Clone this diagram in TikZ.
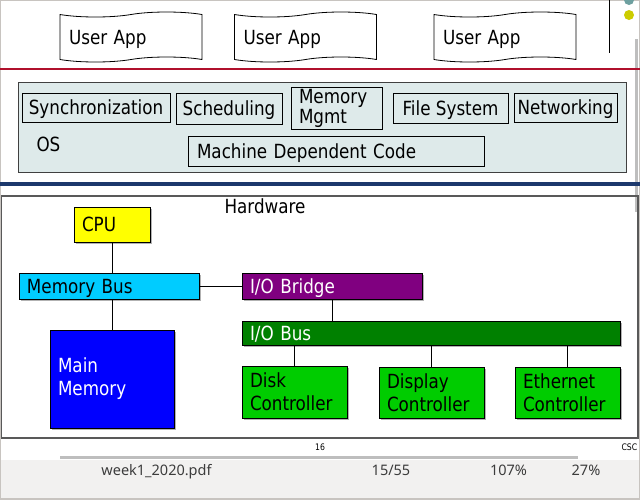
\documentclass[tikz,border=0pt]{standalone}
\usepackage{fontspec}
\setmainfont{DejaVu Sans}[FakeStretch=0.86]
\newfontfamily\uiFont{Noto Sans}
\usetikzlibrary{shapes.symbols, shadows, positioning}
\definecolor{colFrame}{RGB}{200,196,192}
\definecolor{colRedRule}{RGB}{176,16,44}
\definecolor{colNavyRule}{RGB}{28,56,108}
\definecolor{colOs}{RGB}{222,234,234}
\definecolor{colCpu}{RGB}{255,255,0}
\definecolor{colMemBus}{RGB}{0,204,255}
\definecolor{colBridge}{RGB}{128,0,128}
\definecolor{colIoBus}{RGB}{0,128,0}
\definecolor{colMainMem}{RGB}{0,0,255}
\definecolor{colCtrl}{RGB}{0,204,0}
\definecolor{colStatus}{RGB}{242,241,240}
\definecolor{colStatusText}{RGB}{60,60,60}
\definecolor{colScroll}{RGB}{190,190,190}
\definecolor{colDotTeal}{RGB}{110,160,160}
\definecolor{colDotYellow}{RGB}{204,204,0}
\tikzset{
  slideText/.style={
    font=\fontsize{19.5}{23}\selectfont
  },
  oneLine/.style={
    text depth=0pt
  },
  appBox/.style={
    tape, draw, line width=0.8pt,
    tape bend height=5pt,
    minimum height=50pt, text width=124pt,
    inner xsep=9pt, align=left, slideText, oneLine
  },
  osPart/.style={
    rectangle, draw, line width=0.8pt,
    inner sep=0pt, align=center, slideText
  },
  hwBox/.style={
    rectangle, draw, line width=0.8pt,
    inner xsep=8pt, inner ysep=0pt,
    align=left, slideText,
    drop shadow={shadow xshift=1.5pt, shadow yshift=-1.5pt,
                 fill=black!50, opacity=0.6}
  },
  link/.style={
    line width=0.8pt
  },
  statusText/.style={
    font=\uiFont\fontsize{14.5}{16}\selectfont, text=colStatusText
  }
}
\begin{document}
\begin{tikzpicture}[x=1pt, y=-1pt]

\useasboundingbox (0,0) rectangle (640,499);
\fill[white] (0,0) rectangle (640,499);

%% ==============================================================
%% Viewer window
%% ==============================================================
\fill[colStatus] (0,460) rectangle (640,499);
\draw[colFrame, line width=2pt] (0,0) rectangle (640,499);
\draw[colScroll, line width=3pt] (636.5,39) -- (636.5,212);
\fill[colDotTeal] (629,0) circle (5);
\fill[colDotYellow] (629,15) circle (5);
\draw[line width=1pt] (609,0) -- (609,53);

%% ==============================================================
%% User level
%% ==============================================================
\node[appBox] (app1) at (131,37) {User App};
\node[appBox] (app2) at (305.5,37) {User App};
\node[appBox] (app3) at (505,37) {User App};

\draw[colRedRule, line width=2.5pt] (0,69) -- (640,69);

%% ==============================================================
%% OS level
%% ==============================================================
\node[draw=black!75, line width=1pt, fill=colOs,
      minimum width=608, minimum height=90] (osLayer) at (322,127) {};

\node[osPart, oneLine, minimum width=148, minimum height=29] (sync) at (96,107.5) {Synchronization};
\node[osPart, oneLine, minimum width=106, minimum height=31] (sched) at (229,108.5) {Scheduling};
\node[osPart, minimum height=42, text width=75pt, inner xsep=8pt, align=left,
      font=\fontsize{19.5}{20}\selectfont] (memMgmt) at (336.5,108) {Memory\\Mgmt};
\node[osPart, oneLine, minimum width=115, minimum height=30] (fileSys) at (450.5,108) {File System};
\node[osPart, oneLine, minimum width=103, minimum height=29] (netw) at (565.5,107.5) {Networking};

\node[anchor=base west, slideText] (osLabel) at (33,151) {OS};
\node[osPart, oneLine, text width=278pt, inner xsep=9pt, align=left,
      minimum height=30] (machDep) at (336,151) {Machine Dependent Code};

\draw[colNavyRule, line width=3.5pt] (0,184) -- (640,184);

%% ==============================================================
%% Hardware level
%% ==============================================================
\draw[black!65, line width=1.2pt] (1.5,196) rectangle (638,438);
\node[anchor=base west, slideText] (hwLabel) at (221,213) {Hardware};

\node[hwBox, oneLine, fill=colCpu, text width=60pt, minimum height=35] (cpu) at (112,224.5) {CPU};
\node[hwBox, oneLine, fill=colMemBus, text width=164pt, minimum height=26] (memBus) at (109,286) {Memory Bus};
\node[hwBox, oneLine, fill=colBridge, text=white, text width=164pt, minimum height=26] (ioBridge) at (332,286) {I/O Bridge};
\node[hwBox, oneLine, fill=colIoBus, text=white, text width=362pt, minimum height=24] (ioBus) at (431,333) {I/O Bus};
\node[hwBox, fill=colMainMem, text=white, text width=108pt, minimum height=98] (mainMem) at (112,379) {Main\\Memory};
\node[hwBox, fill=colCtrl, text width=89pt, minimum height=52] (diskCtrl) at (294.5,392) {Disk\\Controller};
\node[hwBox, fill=colCtrl, text width=89pt, minimum height=51] (dispCtrl) at (431.5,392.5) {Display\\Controller};
\node[hwBox, fill=colCtrl, text width=89pt, minimum height=51] (ethCtrl) at (567.5,392.5) {Ethernet\\Controller};

% buses
\draw[link] (cpu.south) -- (cpu.south |- memBus.north);
\draw[link] (memBus.east) -- (ioBridge.west);
\draw[link] (mainMem.north) -- (mainMem.north |- memBus.south);
\draw[link] (ioBridge.south) -- (ioBridge.south |- ioBus.north);
\draw[link] (diskCtrl.north) -- (diskCtrl.north |- ioBus.south);
\draw[link] (dispCtrl.north) -- (dispCtrl.north |- ioBus.south);
\draw[link] (ethCtrl.north) -- (ethCtrl.north |- ioBus.south);

%% ==============================================================
%% Page footer and status bar
%% ==============================================================
\node[anchor=base, font=\fontsize{9}{10}\selectfont] (pageNum) at (320,450) {16};
\node[anchor=base west, font=\fontsize{9}{10}\selectfont] (course) at (618,450) {CSC};
\draw[colScroll, line width=3pt] (60,457) -- (578,457);

\node[statusText, anchor=base] (fileName) at (156.5,475) {week1\_2020.pdf};
\node[statusText, anchor=base] (pageCount) at (391,475) {15/55};
\node[statusText, anchor=base] (zoomLevel) at (508.5,475) {107\%};
\node[statusText, anchor=base] (progress) at (586,475) {27\%};

\end{tikzpicture}
\end{document}
